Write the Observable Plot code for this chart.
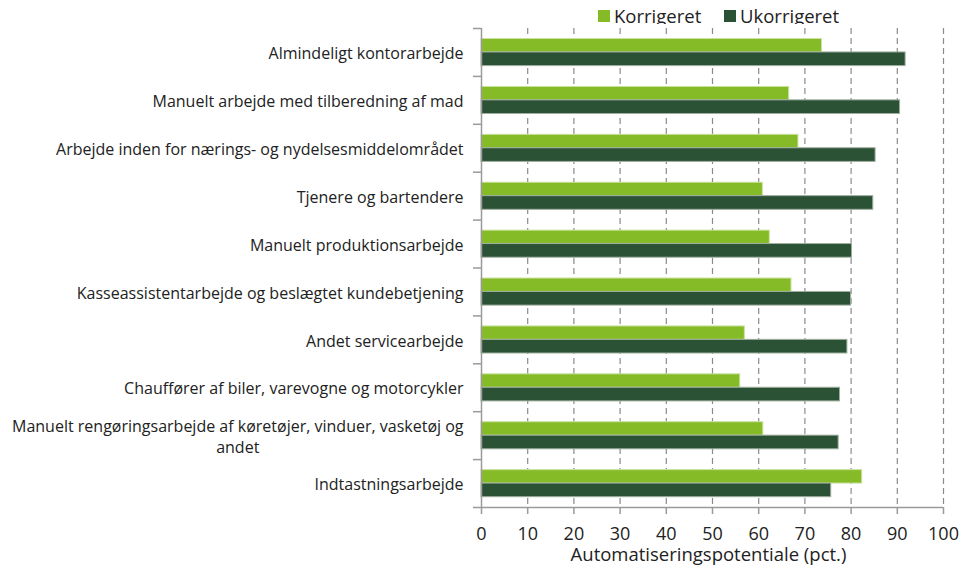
<!DOCTYPE html>
<html>
<head>
<meta charset="utf-8">
<script src="https://cdn.jsdelivr.net/npm/d3@7"></script>
<script src="https://cdn.jsdelivr.net/npm/@observablehq/plot@0.6"></script>
<style>
  body { margin: 0; background: #fff; font-family: "Open Sans", sans-serif; }
  #wrap { position: relative; width: 968px; height: 569px; overflow: hidden; }
  .leg { position: absolute; top: 3px; display: flex; align-items: center; font-size: 18.5px; line-height: 26px; color: #222; white-space: nowrap; }
  .sw { width: 12px; height: 12px; margin-right: 4px; }
  #chart { position: absolute; left: 0; top: 24px; }
</style>
</head>
<body>
<div id="wrap">
  <div class="leg" style="left:598px"><div class="sw" style="background:#86BB28"></div><span>Korrigeret</span></div>
  <div class="leg" style="left:724px"><div class="sw" style="background:#2B5235"></div><span>Ukorrigeret</span></div>
  <div id="chart"></div>
</div>
<script>
const categories = [
  "Almindeligt kontorarbejde",
  "Manuelt arbejde med tilberedning af mad",
  "Arbejde inden for nærings- og nydelsesmiddelområdet",
  "Tjenere og bartendere",
  "Manuelt produktionsarbejde",
  "Kasseassistentarbejde og beslægtet kundebetjening",
  "Andet servicearbejde",
  "Chauffører af biler, varevogne og motorcykler",
  "Manuelt rengøringsarbejde af køretøjer, vinduer, vasketøj og\nandet",
  "Indtastningsarbejde"
];
const korrigeret  = [73.7, 66.6, 68.6, 60.9, 62.4, 67.1, 57.0, 56.0, 61.0, 82.4];
const ukorrigeret = [91.8, 90.6, 85.3, 84.8, 80.2, 80.0, 79.2, 77.6, 77.3, 75.7];
const xTicks = [0, 10, 20, 30, 40, 50, 60, 70, 80, 90, 100];
const axisTitle = "Automatiseringspotentiale (pct.)";

const korrData = categories.map((c, i) => ({cat: c, i, value: korrigeret[i]}));
const ukorrData = categories.map((c, i) => ({cat: c, i, value: ukorrigeret[i]}));

const green = "#86BB28", dark = "#2B5235";

const chart = Plot.plot({
  width: 968,
  height: 545,
  marginTop: 4,
  marginBottom: 62,
  marginLeft: 481,
  marginRight: 25,
  style: {fontFamily: "'Open Sans', sans-serif", color: "#222", background: "white"},
  x: {domain: [0, 100]},
  y: {domain: [0, categories.length], reverse: true},
  marks: [
    Plot.gridX(xTicks.slice(1), {stroke: "#8a8a8a", strokeOpacity: 1, strokeDasharray: "6,4", strokeWidth: 1.2}),
    Plot.rectX(korrData, {x1: 0, x2: "value", y1: d => d.i + 0.22, y2: d => d.i + 0.5, fill: green, stroke: "#c9e29c", strokeWidth: 1}),
    Plot.rectX(ukorrData, {x1: 0, x2: "value", y1: d => d.i + 0.5, y2: d => d.i + 0.785, fill: dark, stroke: "#9fae9f", strokeWidth: 1}),
    Plot.ruleX([0], {stroke: "#9a9a9a", strokeWidth: 1.5}),
    Plot.ruleY([categories.length], {stroke: "#9a9a9a", strokeWidth: 1.5}),
    Plot.axisY(d3.range(0, categories.length + 1), {tickSize: 8, tickFormat: () => "", stroke: "#9a9a9a", strokeWidth: 1.5, label: null}),
    Plot.axisX(xTicks, {tickSize: 7, tickPadding: 13, fontSize: 18, stroke: "#9a9a9a", strokeWidth: 1.5, label: null, fill: "#222"}),
    Plot.text(categories, {y: (d, i) => i + 0.5, frameAnchor: "left", dx: -18, textAnchor: "end", lineAnchor: "middle", text: d => d, fontSize: 16, lineHeight: 1.3, fill: "#222"}),
    Plot.text([axisTitle], {frameAnchor: "bottom", lineAnchor: "middle", dy: 48, dx: -4, text: d => d, fontSize: 18.5, fill: "#222"})
  ]
});
document.getElementById("chart").appendChild(chart);

// center-align the wrapped multi-line label (as in the reference)
chart.querySelectorAll("text").forEach(t => {
  if (t.querySelectorAll("tspan").length > 1) {
    const b0 = t.getBBox();
    t.setAttribute("text-anchor", "middle");
    const b1 = t.getBBox();
    const dx = (b0.x + b0.width / 2) - (b1.x + b1.width / 2);
    const tr = t.getAttribute("transform") || "";
    t.setAttribute("transform", tr + ` translate(${dx},0)`);
  }
});
</script>
</body>
</html>
